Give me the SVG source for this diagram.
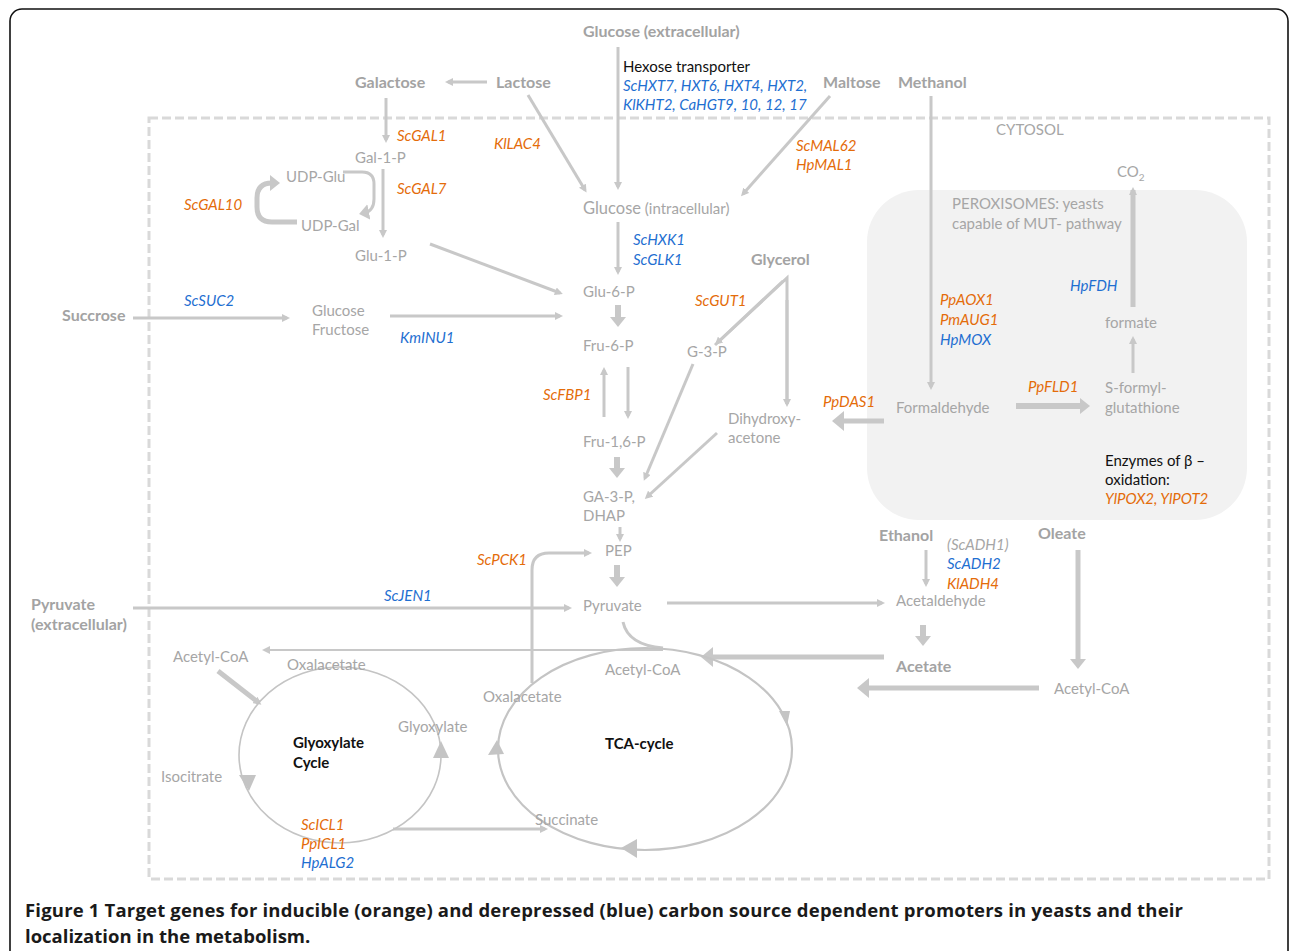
<svg xmlns="http://www.w3.org/2000/svg" width="1290" height="951" viewBox="0 0 1290 951">
<style>
text{font-family:Lato,"Open Sans","Liberation Sans",sans-serif;font-size:15px;fill:#a6a6a6}
.b{font-weight:bold;font-size:16px;fill:#a3a3a3}
.o{fill:#e46c0a;font-style:italic}
.u{fill:#1f6fd1;font-style:italic}
.k{fill:#111}
.kb{fill:#111;font-weight:bold}
.cap{font-family:"Open Sans",Lato,sans-serif;fill:#1a1a1a;font-weight:bold;font-size:18.5px}
.ln{stroke:#c8c8c8;stroke-width:3;fill:none}
.th{stroke:#c8c8c8;stroke-width:2;fill:none}
.ft{stroke:#c8c8c8;stroke-width:6;fill:none}
.bg{stroke:#c8c8c8;stroke-width:5;fill:none}
.tri{fill:#c4c4c4}
</style>
<defs>
<marker id="m1" markerUnits="userSpaceOnUse" viewBox="0 -4 8 8" markerWidth="8" markerHeight="8" refX="5" refY="0" orient="auto"><path d="M0,-4 L8,0 L0,4 z" fill="#c8c8c8"/></marker>
<marker id="m2" markerUnits="userSpaceOnUse" viewBox="0 -8 10 16" markerWidth="10" markerHeight="16" refX="5" refY="0" orient="auto"><path d="M0,-8 L10,0 L0,8 z" fill="#c8c8c8"/></marker>
<marker id="m3" markerUnits="userSpaceOnUse" viewBox="0 -10 12 20" markerWidth="12" markerHeight="20" refX="6" refY="0" orient="auto"><path d="M0,-10 L12,0 L0,10 z" fill="#c8c8c8"/></marker>
</defs>
<rect width="1290" height="951" fill="#fff"/>
<rect x="10" y="9" width="1278" height="965" rx="12" fill="none" stroke="#111" stroke-width="1.6"/>
<g id="peroxisome-region"><rect x="867" y="190" width="380" height="330" rx="52" fill="#f2f2f2"/></g>
<g id="cytosol-box"><rect x="149" y="118" width="1120" height="761" fill="none" stroke="#d9d9d9" stroke-width="3" stroke-dasharray="9 4"/></g>

<g id="connectors">
<line class="ln" stroke-width="4" x1="487" y1="82" x2="448" y2="82" marker-end="url(#m1)"/>
<line class="ln" x1="386" y1="98" x2="386" y2="140" marker-end="url(#m1)"/>
<line class="ln" x1="383" y1="169" x2="383" y2="235" marker-end="url(#m1)"/>
<path class="bg" d="M297,222 L272,222 Q257,222 257,207 L257,198 Q257,183 272,183 L275,183" marker-end="url(#m2)"/>
<path class="ln" stroke-width="4" d="M343,172 L362,172 Q374,172 374,184 L374,199 Q374,211 364,213" marker-end="url(#m2)"/>
<line class="ln" x1="430" y1="244" x2="560" y2="293" marker-end="url(#m1)"/>
<line class="ln" x1="133" y1="318" x2="287" y2="318" marker-end="url(#m1)"/>
<line class="ln" x1="390" y1="316" x2="560" y2="316" marker-end="url(#m1)"/>
<line class="ln" x1="618" y1="47" x2="618" y2="187" marker-end="url(#m1)"/>
<line class="ln" x1="528" y1="95" x2="585" y2="190" marker-end="url(#m1)"/>
<line class="ln" x1="830" y1="96" x2="743" y2="194" marker-end="url(#m1)"/>
<line class="ln" x1="931" y1="96" x2="931" y2="387" marker-end="url(#m1)"/>
<line class="ln" x1="618" y1="222" x2="618" y2="272" marker-end="url(#m1)"/>
<line class="ft" x1="618" y1="305" x2="618" y2="322" marker-end="url(#m2)"/>
<polyline class="ln" points="715,345 787,278 787,404"/>
<line class="ln" x1="787" y1="300" x2="787" y2="404" marker-end="url(#m1)"/>
<line class="ln" x1="783" y1="281" x2="717" y2="343" marker-end="url(#m1)"/>
<line class="ln" x1="604" y1="417" x2="604" y2="370" marker-end="url(#m1)"/>
<line class="ln" x1="628" y1="367" x2="628" y2="416" marker-end="url(#m1)"/>
<line class="ft" x1="617" y1="457" x2="617" y2="473" marker-end="url(#m2)"/>
<line class="ln" x1="693" y1="364" x2="645" y2="478" marker-end="url(#m1)"/>
<line class="ln" x1="717" y1="433" x2="647" y2="497" marker-end="url(#m1)"/>
<line class="bg" x1="884" y1="421" x2="838" y2="421" marker-end="url(#m3)"/>
<line class="ln" x1="620" y1="527" x2="620" y2="539" marker-end="url(#m1)"/>
<line class="ft" x1="617" y1="565" x2="617" y2="582" marker-end="url(#m2)"/>
<path class="ln" d="M532,683 L532,570 Q532,553 549,553 L589,553" marker-end="url(#m1)"/>
<line class="ln" x1="133" y1="608" x2="569" y2="608" marker-end="url(#m1)"/>
<line class="ln" x1="667" y1="603" x2="882" y2="603" marker-end="url(#m1)"/>
<path class="ln" d="M623,622 Q628,645 663,648"/>
<line class="th" x1="663" y1="650" x2="265" y2="650" marker-end="url(#m1)"/>
<line class="bg" x1="884" y1="657" x2="707" y2="657" marker-end="url(#m3)"/>
<line class="ln" x1="926" y1="550" x2="926" y2="584" marker-end="url(#m1)"/>
<line class="ft" x1="923" y1="625" x2="923" y2="641" marker-end="url(#m2)"/>
<line class="bg" x1="1078" y1="550" x2="1078" y2="664" marker-end="url(#m2)"/>
<line class="bg" x1="1039" y1="688" x2="863" y2="688" marker-end="url(#m3)"/>
<line class="bg" x1="1133" y1="307" x2="1133" y2="190" marker-end="url(#m1)"/>
<line class="ln" x1="1133" y1="373" x2="1133" y2="339" marker-end="url(#m1)"/>
<line class="ft" x1="1016" y1="406" x2="1085" y2="406" marker-end="url(#m2)"/>
<line class="bg" x1="218" y1="671" x2="259" y2="703" marker-end="url(#m1)"/>
<line class="ln" x1="393" y1="829" x2="545" y2="829" marker-end="url(#m1)"/>
<ellipse cx="340" cy="755" rx="101" ry="88" fill="none" stroke="#c4c4c4" stroke-width="1.6"/>
<ellipse cx="645" cy="749" rx="147" ry="101" fill="none" stroke="#c4c4c4" stroke-width="2.2"/>
<path class="tri" d="M239,775 L256,775 L249,791 z"/>
<path class="tri" d="M441,741 L433,758 L449,758 z"/>
<path class="tri" d="M497,740 L488,755 L504,754 z"/>
<path class="tri" d="M779,711 L790,711 L787,726 z"/>
<path class="tri" d="M621,848 L637,839 L637,858 z"/>
</g>

<g id="node-glucose-ext"><text x="583" y="37" class="b">Glucose (extracellular)</text></g>
<g id="node-hexose"><text x="623" y="72" class="k">Hexose transporter</text>
<text x="623" y="91" class="u">ScHXT7, HXT6, HXT4, HXT2,</text>
<text x="623" y="110" class="u">KlKHT2, CaHGT9, 10, 12, 17</text></g>
<g id="node-galactose"><text x="355" y="88" class="b">Galactose</text></g>
<g id="node-lactose"><text x="496" y="88" class="b">Lactose</text></g>
<g id="node-maltose"><text x="823" y="88" class="b">Maltose</text></g>
<g id="node-methanol"><text x="898" y="88" class="b">Methanol</text></g>
<g id="node-cytosol"><text x="996" y="135">CYTOSOL</text></g>
<g id="gene-gal1"><text x="397" y="141" class="o">ScGAL1</text></g>
<g id="gene-lac4"><text x="494" y="149" class="o">KlLAC4</text></g>
<g id="gene-mal"><text x="796" y="151" class="o">ScMAL62</text><text x="796" y="170" class="o">HpMAL1</text></g>
<g id="node-gal1p"><text x="355" y="163">Gal-1-P</text></g>
<g id="node-udpglu"><text x="286" y="182">UDP-Glu</text></g>
<g id="node-udpgal"><text x="301" y="231">UDP-Gal</text></g>
<g id="gene-gal7"><text x="397" y="194" class="o">ScGAL7</text></g>
<g id="gene-gal10"><text x="184" y="210" class="o">ScGAL10</text></g>
<g id="node-glu1p"><text x="355" y="261">Glu-1-P</text></g>
<g id="node-glucose-int"><text x="583" y="214"><tspan font-size="16.5">Glucose</tspan> (intracellular)</text></g>
<g id="gene-hxk"><text x="633" y="245" class="u">ScHXK1</text><text x="633" y="265" class="u">ScGLK1</text></g>
<g id="node-glycerol"><text x="751" y="265" class="b">Glycerol</text></g>
<g id="node-glu6p"><text x="583" y="297">Glu-6-P</text></g>
<g id="gene-gut1"><text x="695" y="306" class="o">ScGUT1</text></g>
<g id="node-succrose"><text x="62" y="321" class="b">Succrose</text></g>
<g id="gene-suc2"><text x="184" y="306" class="u">ScSUC2</text></g>
<g id="node-glcfru"><text x="312" y="316">Glucose</text><text x="312" y="335">Fructose</text></g>
<g id="gene-inu1"><text x="400" y="343" class="u">KmINU1</text></g>
<g id="node-fru6p"><text x="583" y="351">Fru-6-P</text></g>
<g id="node-g3p"><text x="687" y="357">G-3-P</text></g>
<g id="gene-fbp1"><text x="543" y="400" class="o">ScFBP1</text></g>
<g id="node-dha"><text x="728" y="424">Dihydroxy-</text><text x="728" y="443">acetone</text></g>
<g id="gene-das1"><text x="823" y="407" class="o">PpDAS1</text></g>
<g id="node-fru16p"><text x="583" y="447">Fru-1,6-P</text></g>
<g id="node-ga3p"><text x="583" y="502">GA-3-P,</text><text x="583" y="521">DHAP</text></g>
<g id="node-pep"><text x="605" y="556">PEP</text></g>
<g id="gene-pck1"><text x="477" y="565" class="o">ScPCK1</text></g>
<g id="node-pyruvate"><text x="583" y="611">Pyruvate</text></g>
<g id="node-pyruvate-ext"><text x="31" y="610" class="b">Pyruvate</text><text x="31" y="630" class="b">(extracellular)</text></g>
<g id="gene-jen1"><text x="384" y="601" class="u">ScJEN1</text></g>
<g id="node-peroxisomes"><text x="952" y="209">PEROXISOMES: yeasts</text><text x="952" y="229">capable of MUT- pathway</text></g>
<g id="node-co2"><text x="1117" y="177">CO<tspan font-size="10" dy="4">2</tspan></text></g>
<g id="gene-fdh"><text x="1070" y="291" class="u">HpFDH</text></g>
<g id="gene-aox"><text x="940" y="305" class="o">PpAOX1</text><text x="940" y="325" class="o">PmAUG1</text><text x="940" y="345" class="u">HpMOX</text></g>
<g id="node-formate"><text x="1105" y="328">formate</text></g>
<g id="gene-fld1"><text x="1028" y="392" class="o">PpFLD1</text></g>
<g id="node-sfg"><text x="1105" y="393">S-formyl-</text><text x="1105" y="413">glutathione</text></g>
<g id="node-formaldehyde"><text x="896" y="413">Formaldehyde</text></g>
<g id="node-betaox"><text x="1105" y="466" class="k">Enzymes of  β –</text><text x="1105" y="485" class="k">oxidation:</text><text x="1105" y="504" class="o">YlPOX2, YlPOT2</text></g>
<g id="node-ethanol"><text x="879" y="541" class="b">Ethanol</text></g>
<g id="gene-adh"><text x="947" y="550" font-style="italic">(ScADH1)</text><text x="947" y="569" class="u">ScADH2</text><text x="947" y="589" class="o">KlADH4</text></g>
<g id="node-oleate"><text x="1038" y="539" class="b">Oleate</text></g>
<g id="node-acetaldehyde"><text x="896" y="606">Acetaldehyde</text></g>
<g id="node-acetate"><text x="896" y="672" class="b">Acetate</text></g>
<g id="node-acetylcoa-ole"><text x="1054" y="694">Acetyl-CoA</text></g>
<g id="node-acetylcoa-tca"><text x="605" y="675">Acetyl-CoA</text></g>
<g id="node-oxal-tca"><text x="483" y="702">Oxalacetate</text></g>
<g id="node-tca"><text x="605" y="749" class="kb">TCA-cycle</text></g>
<g id="node-succinate"><text x="535" y="825">Succinate</text></g>
<g id="node-acetylcoa-gly"><text x="173" y="662">Acetyl-CoA</text></g>
<g id="node-oxal-gly"><text x="287" y="670">Oxalacetate</text></g>
<g id="node-glyoxylate"><text x="398" y="732">Glyoxylate</text></g>
<g id="node-glycycle"><text x="293" y="748" class="kb">Glyoxylate</text><text x="293" y="768" class="kb">Cycle</text></g>
<g id="node-isocitrate"><text x="161" y="782">Isocitrate</text></g>
<g id="gene-icl"><text x="301" y="830" class="o">ScICL1</text><text x="301" y="849" class="o">PpICL1</text><text x="301" y="868" class="u">HpALG2</text></g>
<g id="caption"><text x="25" y="917" class="cap" textLength="1158" lengthAdjust="spacing">Figure 1 Target genes for inducible (orange) and derepressed (blue) carbon source dependent promoters in yeasts and their</text><text x="25" y="943" class="cap">localization in the metabolism.</text></g>
</svg>
